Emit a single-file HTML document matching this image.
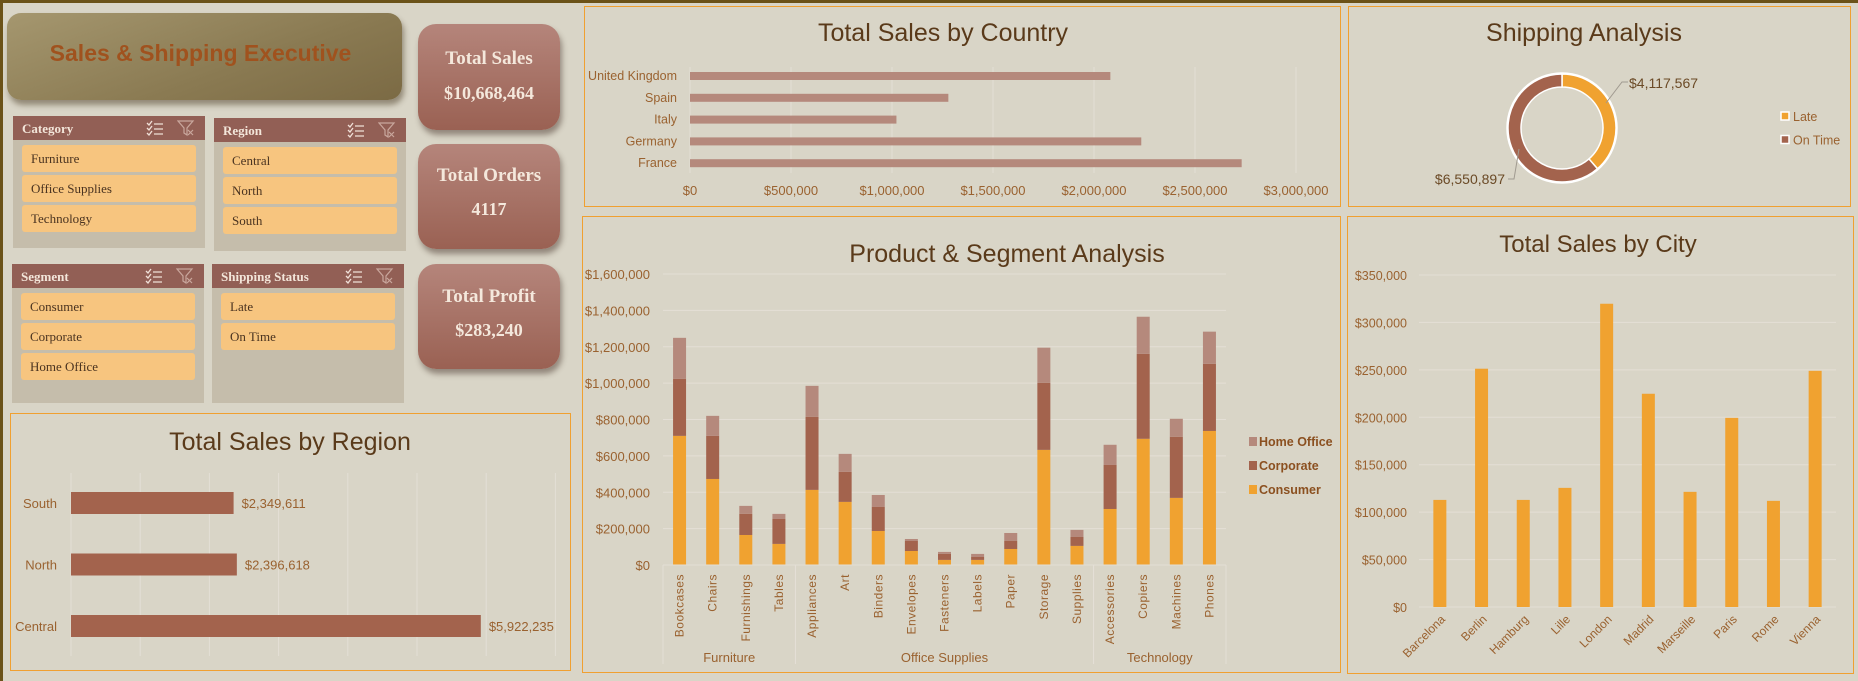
<!DOCTYPE html>
<html><head><meta charset="utf-8">
<style>
*{margin:0;padding:0;box-sizing:border-box}
body{width:1858px;height:681px;background:#d9d5c7;position:relative;overflow:hidden;font-family:"Liberation Sans",sans-serif}
.abs{position:absolute}
.frame-top{left:0;top:0;width:1858px;height:3px;background:#6b5218}
.frame-left{left:0;top:0;width:3px;height:681px;background:#6b5218}
.title-box{left:7px;top:13px;width:395px;height:87px;border-radius:14px;background:linear-gradient(160deg,#a5976f,#8a7a52 60%,#7b6a44);box-shadow:2px 5px 6px rgba(60,45,20,.45);color:#a0521e;font-weight:bold;font-size:23px;font-family:"Liberation Sans Narrow","Liberation Sans",sans-serif;display:flex;align-items:center;justify-content:center;padding-right:8px;padding-bottom:6px}
.slicer{background:#c5bdab}
.sl-head{position:absolute;left:0;top:0;right:0;height:24px;background:#925f55;color:#f3e6da;font-family:"Liberation Serif",serif;font-weight:bold;font-size:13px;padding:5px 0 0 9px}
.sl-item{position:absolute;left:9px;right:9px;height:27px;background:#f7c57f;border-radius:3px;font-family:"Liberation Serif",serif;font-size:13px;color:#4a3320;padding:6px 0 0 9px}
.ico{position:absolute;top:3px}
.kpi{left:418px;width:142px;border-radius:18px;background:linear-gradient(180deg,#b5857b,#9a6153);box-shadow:2px 5px 6px rgba(60,40,30,.45);color:#f4e8dc;font-family:"Liberation Serif",serif;font-weight:bold;text-align:center}
.kpi .l{position:absolute;left:0;right:0;font-size:19px}
.kpi .v{position:absolute;left:0;right:0;font-size:18px}
.panel{border:1px solid #f0a030}
svg text{font-family:"Liberation Sans Narrow","Liberation Sans",sans-serif}
</style></head>
<body>
<div class="abs frame-top"></div>
<div class="abs frame-left"></div>
<div class="abs title-box">Sales &amp; Shipping Executive</div>

<div class="abs slicer" style="left:13px;top:116px;width:192px;height:132px">
 <div class="sl-head">Category
  <svg class="ico" style="left:132px" width="20" height="18"><g stroke="#f0e0d8" stroke-width="1.3" fill="none"><path d="M2 4l2 2 3-4M2 9l2 2 3-4M2 14l2 2 3-4M9 5h9M9 10h9M9 15h9"/></g></svg>
  <svg class="ico" style="left:164px" width="18" height="18"><g stroke="#c9a79d" stroke-width="1.2" fill="none"><path d="M1 2h15l-6 7v7l-3-2V9z"/><path d="M11 11l5 5M16 11l-5 5"/></g></svg>
 </div>
 <div class="sl-item" style="top:29px">Furniture</div>
 <div class="sl-item" style="top:59px">Office Supplies</div>
 <div class="sl-item" style="top:89px">Technology</div>
</div>

<div class="abs slicer" style="left:214px;top:118px;width:192px;height:133px">
 <div class="sl-head">Region
  <svg class="ico" style="left:132px" width="20" height="18"><g stroke="#f0e0d8" stroke-width="1.3" fill="none"><path d="M2 4l2 2 3-4M2 9l2 2 3-4M2 14l2 2 3-4M9 5h9M9 10h9M9 15h9"/></g></svg>
  <svg class="ico" style="left:164px" width="18" height="18"><g stroke="#c9a79d" stroke-width="1.2" fill="none"><path d="M1 2h15l-6 7v7l-3-2V9z"/><path d="M11 11l5 5M16 11l-5 5"/></g></svg>
 </div>
 <div class="sl-item" style="top:29px">Central</div>
 <div class="sl-item" style="top:59px">North</div>
 <div class="sl-item" style="top:89px">South</div>
</div>

<div class="abs slicer" style="left:12px;top:264px;width:192px;height:139px">
 <div class="sl-head">Segment
  <svg class="ico" style="left:132px" width="20" height="18"><g stroke="#f0e0d8" stroke-width="1.3" fill="none"><path d="M2 4l2 2 3-4M2 9l2 2 3-4M2 14l2 2 3-4M9 5h9M9 10h9M9 15h9"/></g></svg>
  <svg class="ico" style="left:164px" width="18" height="18"><g stroke="#c9a79d" stroke-width="1.2" fill="none"><path d="M1 2h15l-6 7v7l-3-2V9z"/><path d="M11 11l5 5M16 11l-5 5"/></g></svg>
 </div>
 <div class="sl-item" style="top:29px">Consumer</div>
 <div class="sl-item" style="top:59px">Corporate</div>
 <div class="sl-item" style="top:89px">Home Office</div>
</div>

<div class="abs slicer" style="left:212px;top:264px;width:192px;height:139px">
 <div class="sl-head">Shipping Status
  <svg class="ico" style="left:132px" width="20" height="18"><g stroke="#f0e0d8" stroke-width="1.3" fill="none"><path d="M2 4l2 2 3-4M2 9l2 2 3-4M2 14l2 2 3-4M9 5h9M9 10h9M9 15h9"/></g></svg>
  <svg class="ico" style="left:164px" width="18" height="18"><g stroke="#c9a79d" stroke-width="1.2" fill="none"><path d="M1 2h15l-6 7v7l-3-2V9z"/><path d="M11 11l5 5M16 11l-5 5"/></g></svg>
 </div>
 <div class="sl-item" style="top:29px">Late</div>
 <div class="sl-item" style="top:59px">On Time</div>
</div>

<div class="abs kpi" style="top:24px;height:106px"><div class="l" style="top:24px">Total Sales</div><div class="v" style="top:59px">$10,668,464</div></div>
<div class="abs kpi" style="top:144px;height:105px"><div class="l" style="top:21px">Total Orders</div><div class="v" style="top:55px">4117</div></div>
<div class="abs kpi" style="top:264px;height:105px"><div class="l" style="top:22px">Total Profit</div><div class="v" style="top:56px">$283,240</div></div>

<div class="abs panel" style="left:584px;top:6px;width:757px;height:201px"></div>
<div class="abs panel" style="left:1348px;top:6px;width:503px;height:201px"></div>
<div class="abs panel" style="left:10px;top:413px;width:561px;height:258px"></div>
<div class="abs panel" style="left:582px;top:216px;width:759px;height:457px"></div>
<div class="abs panel" style="left:1347px;top:216px;width:507px;height:458px"></div>

<svg id="charts" class="abs" style="left:0;top:0" width="1858" height="681"></svg>

<script>
const countries=['United Kingdom','Spain','Italy','Germany','France'];
const countrySales=[2081000,1279000,1022000,2234000,2731000];
const countryTicks=[0,500000,1000000,1500000,2000000,2500000,3000000];
const countryTickLabels=['$0','$500,000','$1,000,000','$1,500,000','$2,000,000','$2,500,000','$3,000,000'];

const regions=['South','North','Central'];
const regionSales=[2349611,2396618,5922235];
const regionLabels=['$2,349,611','$2,396,618','$5,922,235'];
const regionTicks=[0,1000000,2000000,3000000,4000000,5000000,6000000,7000000];

const shipStatus=['Late','On Time'];
const shipValues=[4117567,6550897];
const shipLabels=['$4,117,567','$6,550,897'];

const products=['Bookcases','Chairs','Furnishings','Tables','Appliances','Art','Binders','Envelopes','Fasteners','Labels','Paper','Storage','Supplies','Accessories','Copiers','Machines','Phones'];
const consumer=[710000,473000,165000,116000,413000,347000,187000,77000,28000,28000,88000,633000,105000,308000,694000,369000,737000];
const corporate=[314000,237000,116000,137000,402000,165000,132000,55000,33000,16000,44000,369000,49000,242000,467000,336000,369000];
const homeOffice=[225000,110000,44000,28000,170000,99000,66000,11000,11000,17000,44000,193000,39000,111000,204000,99000,177000];
const productGroups=['Furniture','Office Supplies','Technology'];
const groupSizes=[4,9,4];
const productTicks=[0,200000,400000,600000,800000,1000000,1200000,1400000,1600000];
const productTickLabels=['$0','$200,000','$400,000','$600,000','$800,000','$1,000,000','$1,200,000','$1,400,000','$1,600,000'];

const cities=['Barcelona','Berlin','Hamburg','Lille','London','Madrid','Marseille','Paris','Rome','Vienna'];
const citySales=[112900,251200,112900,125600,319700,224800,121400,199400,111900,249000];
const cityTicks=[0,50000,100000,150000,200000,250000,300000,350000];
const cityTickLabels=['$0','$50,000','$100,000','$150,000','$200,000','$250,000','$300,000','$350,000'];

const NS='http://www.w3.org/2000/svg';
const svg=document.getElementById('charts');
function mk(tag,a,parent){const e=document.createElementNS(NS,tag);for(const k in a)e.setAttribute(k,a[k]);(parent||svg).appendChild(e);return e;}
function txt(s,a,parent){const e=mk('text',a,parent);e.textContent=s;return e;}
const AX='#9a6230', TITLE='#5a3a1a', GRID='#e4dfd6';

/* ---- Country chart ---- */
const cx=v=>690+v/3000000*606;
const cy=i=>76+i*21.8;
let t=txt('Total Sales by Country',{x:943,y:41,'text-anchor':'middle','font-size':25,fill:TITLE});

countryTicks.forEach((v,i)=>{
 const g=mk('line',{x1:cx(v),x2:cx(v),y1:67,y2:173,stroke:GRID,'stroke-width':1});
 
 const l=txt(countryTickLabels[i],{x:cx(v),y:195,'text-anchor':'middle','font-size':13,fill:AX});
 
});
countries.forEach((c,i)=>{
 const b=mk('rect',{x:cx(0),y:cy(i)-4,width:cx(countrySales[i])-cx(0),height:8,fill:'#b5897c'});
 
 const l=txt(c,{x:677,y:cy(i)+4,'text-anchor':'end','font-size':12.5,fill:AX});
 
});

/* ---- Shipping donut ---- */
t=txt('Shipping Analysis',{x:1584,y:41,'text-anchor':'middle','font-size':25,fill:TITLE});

const dcx=1562,dcy=128,R=54,r=41;
const shipTotal=shipValues.reduce((a,b)=>a+b,0);
const shipColors=['#f0a230','#a3634d'];
let ang=-Math.PI/2;
shipValues.forEach((v,i)=>{
 const a2=ang+v/shipTotal*2*Math.PI;
 const large=(a2-ang)>Math.PI?1:0;
 const p=(rad,a)=>[dcx+rad*Math.cos(a),dcy+rad*Math.sin(a)];
 const [x1,y1]=p(R,ang),[x2,y2]=p(R,a2),[x3,y3]=p(r,a2),[x4,y4]=p(r,ang);
 const s=mk('path',{d:`M${x1} ${y1}A${R} ${R} 0 ${large} 1 ${x2} ${y2}L${x3} ${y3}A${r} ${r} 0 ${large} 0 ${x4} ${y4}Z`,fill:shipColors[i],stroke:'#fff','stroke-width':1.5});
 
 ang=a2;
});
mk('circle',{cx:dcx,cy:dcy,r:R+1,fill:'none',stroke:'#fff','stroke-width':1.5});
let ld=mk('polyline',{points:'1606,103 1622,82 1628,82',fill:'none',stroke:'#a09a90','stroke-width':1});

t=txt(shipLabels[0],{x:1629,y:88,'font-size':14,fill:'#6b4a26','font-family':'Liberation Sans'});

ld=mk('polyline',{points:'1519,149 1514,179 1508,179',fill:'none',stroke:'#a09a90','stroke-width':1});

t=txt(shipLabels[1],{x:1505,y:184,'text-anchor':'end','font-size':14,fill:'#6b4a26'});

shipStatus.forEach((s,i)=>{
 const sq=mk('rect',{x:1781,y:112+i*23.5,width:8,height:8,fill:shipColors[i],stroke:'#fff','stroke-width':1.5});
 
 const l=txt(s,{x:1793,y:121+i*23.5,'font-size':12.5,fill:AX});
 
});

/* ---- Region chart ---- */
const rx=v=>71+v/1000000*69.2;
const ry=i=>503+i*61.5;
t=txt('Total Sales by  Region',{x:290,y:450,'text-anchor':'middle','font-size':25,fill:TITLE,'xml:space':'preserve'});

regionTicks.forEach(v=>{
 const g=mk('line',{x1:rx(v),x2:rx(v),y1:473,y2:656,stroke:GRID,'stroke-width':1});
 
});
regions.forEach((c,i)=>{
 const b=mk('rect',{x:rx(0),y:ry(i)-11,width:rx(regionSales[i])-rx(0),height:22,fill:'#a3634d'});
 
 const l=txt(c,{x:57,y:ry(i)+5,'text-anchor':'end','font-size':13,fill:AX});
 
 const v=txt(regionLabels[i],{x:rx(regionSales[i])+8,y:ry(i)+5,'font-size':13,fill:AX});
 
});

/* ---- Product & Segment ---- */
const py=v=>565-v/1600000*291;
const pw=(1226-663)/products.length;
const px=i=>663+(i+0.5)*pw;
t=txt('Product & Segment Analysis',{x:1007,y:262,'text-anchor':'middle','font-size':25,fill:TITLE});

productTicks.forEach((v,i)=>{
 const g=mk('line',{x1:663,x2:1226,y1:py(v),y2:py(v),stroke:GRID,'stroke-width':1});
 
 const l=txt(productTickLabels[i],{x:650,y:py(v)+5,'text-anchor':'end','font-size':13,fill:AX});
 
});
const segColors={consumer:'#f0a230',corporate:'#a3634d',home:'#b5897c'};
products.forEach((p,i)=>{
 let base=0;
 [[consumer,'consumer'],[corporate,'corporate'],[homeOffice,'home']].forEach(([arr,k])=>{
  const v=arr[i];
  const b=mk('rect',{x:px(i)-6.5,y:py(base+v),width:13,height:py(base)-py(base+v),fill:segColors[k]});
  
  base+=v;
 });
 const l=txt(p,{x:px(i)+4,y:574,'text-anchor':'end','font-size':12,fill:AX,'font-family':'Liberation Sans','letter-spacing':'0.5',transform:`rotate(-90 ${px(i)+4} 574)`});
 
});
let gi=0;
const sepX=[663];
groupSizes.forEach(n=>{gi+=n;sepX.push(663+gi*pw);});
sepX.forEach(x=>{
 const s=mk('line',{x1:x,x2:x,y1:565,y2:664,stroke:GRID,'stroke-width':1});
 
});
productGroups.forEach((g,i)=>{
 const l=txt(g,{x:(sepX[i]+sepX[i+1])/2,y:662,'text-anchor':'middle','font-size':13,fill:AX});
 
});
const mainAxis=mk('line',{x1:663,x2:1226,y1:565,y2:565,stroke:GRID,'stroke-width':1});

[['Home Office','home'],['Corporate','corporate'],['Consumer','consumer']].forEach(([n,k],i)=>{
 const sq=mk('rect',{x:1249,y:437+i*24,width:8,height:9,fill:segColors[k]});
 
 const l=txt(n,{x:1259,y:446+i*24,'font-size':12.5,'font-weight':'bold',fill:'#8b5020'});
 
});

/* ---- City chart ---- */
const yy=v=>607-v/350000*332;
const cw=(1836-1419)/cities.length;
const xx=i=>1419+(i+0.5)*cw;
t=txt('Total Sales by City',{x:1598,y:252,'text-anchor':'middle','font-size':24,fill:TITLE,'font-family':'Liberation Sans'});

cityTicks.forEach((v,i)=>{
 const g=mk('line',{x1:1419,x2:1836,y1:yy(v),y2:yy(v),stroke:GRID,'stroke-width':1});
 
 const l=txt(cityTickLabels[i],{x:1407,y:yy(v)+5,'text-anchor':'end','font-size':12.5,fill:AX,'font-family':'Liberation Sans'});
 
});
cities.forEach((c,i)=>{
 const b=mk('rect',{x:xx(i)-6.5,y:yy(citySales[i]),width:13,height:yy(0)-yy(citySales[i]),fill:'#f0a230'});
 
 const l=txt(c,{x:xx(i)+6,y:620,'text-anchor':'end','font-size':12,fill:AX,'font-family':'Liberation Sans',transform:`rotate(-45 ${xx(i)+6} 620)`});
 
});
</script>
</body></html>
